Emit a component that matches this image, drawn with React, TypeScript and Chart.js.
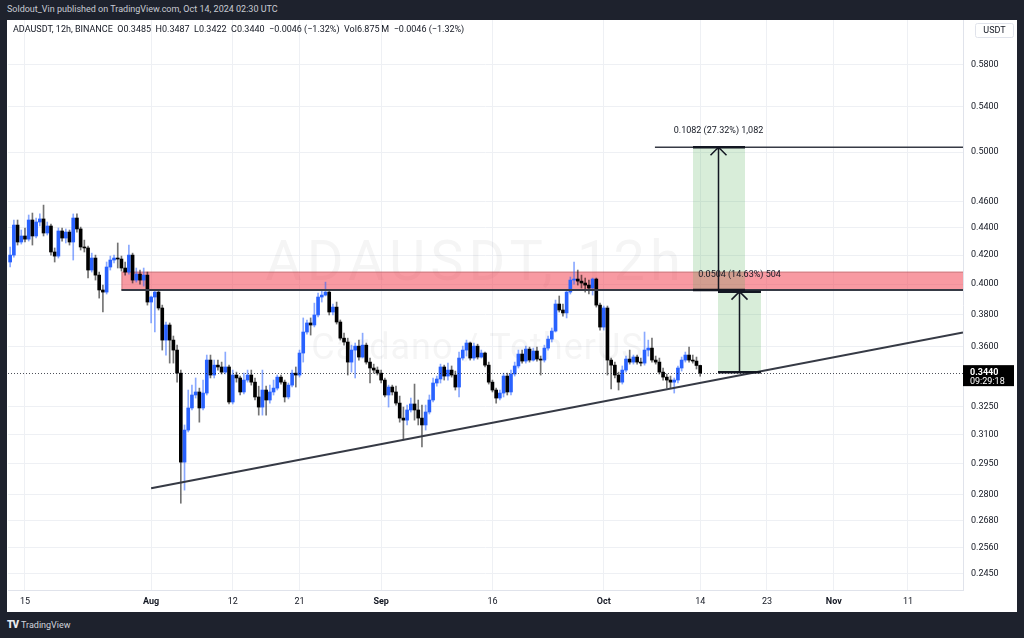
import React, { useEffect, useRef } from "react";
import { Chart, registerables } from "chart.js";

Chart.register(...registerables);

if (typeof document !== "undefined") {
  document.body.style.margin = "0";
}

// ---- data (ADAUSDT, 12h candles, Binance) ----
// x unit: days since 2024-07-15 00:00 UTC; first candle opens 2024-07-13 00:00, one candle per 12h
const firstCandleDay = -2;
const candleStepDays = 0.5;
const firstOpen = 0.4152;

const closes = [
  0.4201, 0.4420, 0.4295, 0.4339, 0.4316, 0.4458, 0.4339, 0.4443, 0.4466, 0.4361,
  0.4413, 0.4223, 0.4194, 0.4376, 0.4324, 0.4368, 0.4295, 0.4473, 0.4391, 0.4259,
  0.4252, 0.4096, 0.4180, 0.4061, 0.3960, 0.3946, 0.4117, 0.4166, 0.4180, 0.4173,
  0.4110, 0.4082, 0.4201, 0.4027, 0.4068, 0.4027, 0.4061, 0.3880, 0.3913, 0.3946,
  0.3841, 0.3638, 0.3732, 0.3638, 0.3577, 0.3440, 0.2959, 0.3124, 0.3243, 0.3315,
  0.3332, 0.3243, 0.3326, 0.3517, 0.3429, 0.3487, 0.3476, 0.3446, 0.3476, 0.3276,
  0.3429, 0.3412, 0.3332, 0.3400, 0.3429, 0.3388, 0.3304, 0.3248, 0.3343, 0.3287,
  0.3332, 0.3354, 0.3417, 0.3388, 0.3304, 0.3371, 0.3440, 0.3429, 0.3559, 0.3688,
  0.3745, 0.3732, 0.3796, 0.3913, 0.3926, 0.3946, 0.3815, 0.3847, 0.3751, 0.3650,
  0.3626, 0.3505, 0.3577, 0.3601, 0.3535, 0.3607, 0.3505, 0.3470, 0.3458, 0.3440,
  0.3400, 0.3315, 0.3360, 0.3332, 0.3270, 0.3188, 0.3177, 0.3232, 0.3265, 0.3232,
  0.3188, 0.3151, 0.3221, 0.3287, 0.3383, 0.3406, 0.3476, 0.3423, 0.3458, 0.3429,
  0.3360, 0.3529, 0.3577, 0.3620, 0.3529, 0.3601, 0.3535, 0.3559, 0.3487, 0.3388,
  0.3343, 0.3298, 0.3326, 0.3423, 0.3332, 0.3435, 0.3482, 0.3553, 0.3511, 0.3583,
  0.3517, 0.3571, 0.3523, 0.3517, 0.3589, 0.3644, 0.3694, 0.3867, 0.3828, 0.3809,
  0.3946, 0.4027, 0.4034, 0.4020, 0.4007, 0.3993, 0.3973, 0.4034, 0.3860, 0.3719,
  0.3841, 0.3517, 0.3487, 0.3429, 0.3388, 0.3458, 0.3523, 0.3505, 0.3535, 0.3505,
  0.3499, 0.3577, 0.3589, 0.3517, 0.3505, 0.3446, 0.3417, 0.3400, 0.3388, 0.3400,
  0.3470, 0.3517, 0.3547, 0.3517, 0.3511, 0.3485, 0.3440,
];

const highs = [
  0.4259, 0.4458, 0.4458, 0.4383, 0.4398, 0.4496, 0.4511, 0.4473, 0.4504, 0.4572,
  0.4443, 0.4428, 0.4252, 0.4398, 0.4398, 0.4391, 0.4383, 0.4504, 0.4504, 0.4405,
  0.4309, 0.4266, 0.4215, 0.4201, 0.4082, 0.3993, 0.4152, 0.4194, 0.4201, 0.4288,
  0.4194, 0.4152, 0.4273, 0.4215, 0.4110, 0.4096, 0.4110, 0.4082, 0.3920, 0.3960,
  0.3960, 0.3860, 0.3751, 0.3745, 0.3663, 0.3607, 0.3458, 0.3151, 0.3343, 0.3371,
  0.3412, 0.3354, 0.3400, 0.3547, 0.3547, 0.3517, 0.3517, 0.3505, 0.3565, 0.3487,
  0.3458, 0.3446, 0.3423, 0.3440, 0.3458, 0.3458, 0.3412, 0.3365, 0.3458, 0.3365,
  0.3371, 0.3400, 0.3429, 0.3429, 0.3400, 0.3383, 0.3458, 0.3476, 0.3577, 0.3777,
  0.3764, 0.3777, 0.3873, 0.3940, 0.3960, 0.4013, 0.3960, 0.3867, 0.3880, 0.3764,
  0.3681, 0.3650, 0.3607, 0.3620, 0.3638, 0.3681, 0.3620, 0.3529, 0.3493, 0.3476,
  0.3458, 0.3412, 0.3371, 0.3371, 0.3365, 0.3309, 0.3248, 0.3259, 0.3298, 0.3377,
  0.3287, 0.3259, 0.3259, 0.3315, 0.3412, 0.3423, 0.3493, 0.3487, 0.3499, 0.3482,
  0.3452, 0.3565, 0.3601, 0.3638, 0.3626, 0.3620, 0.3613, 0.3577, 0.3565, 0.3505,
  0.3400, 0.3354, 0.3343, 0.3440, 0.3440, 0.3458, 0.3505, 0.3577, 0.3577, 0.3601,
  0.3595, 0.3589, 0.3595, 0.3541, 0.3607, 0.3663, 0.3713, 0.3893, 0.3920, 0.3867,
  0.3960, 0.4048, 0.4152, 0.4096, 0.4061, 0.4041, 0.4027, 0.4041, 0.4041, 0.3873,
  0.3854, 0.3854, 0.3529, 0.3505, 0.3446, 0.3482, 0.3541, 0.3577, 0.3547, 0.3547,
  0.3529, 0.3688, 0.3638, 0.3650, 0.3541, 0.3529, 0.3470, 0.3435, 0.3423, 0.3412,
  0.3482, 0.3535, 0.3565, 0.3595, 0.3547, 0.3535, 0.3487,
];

const lows = [
  0.4117, 0.4187, 0.4273, 0.4280, 0.4295, 0.4302, 0.4273, 0.4324, 0.4413, 0.4339,
  0.4346, 0.4201, 0.4152, 0.4180, 0.4302, 0.4288, 0.4273, 0.4166, 0.4368, 0.4237,
  0.4223, 0.4041, 0.4082, 0.4027, 0.3906, 0.3815, 0.3933, 0.4096, 0.4145, 0.4110,
  0.4089, 0.4061, 0.4068, 0.4007, 0.4013, 0.4000, 0.3986, 0.3860, 0.3745, 0.3688,
  0.3828, 0.3577, 0.3547, 0.3499, 0.3499, 0.3388, 0.2760, 0.2822, 0.3114, 0.3232,
  0.3298, 0.3166, 0.3232, 0.3315, 0.3412, 0.3412, 0.3458, 0.3435, 0.3435, 0.3265,
  0.3265, 0.3388, 0.3315, 0.3321, 0.3388, 0.3371, 0.3287, 0.3204, 0.3204, 0.3204,
  0.3270, 0.3315, 0.3343, 0.3377, 0.3276, 0.3293, 0.3360, 0.3360, 0.3417, 0.3505,
  0.3675, 0.3669, 0.3720, 0.3783, 0.3880, 0.3920, 0.3796, 0.3796, 0.3738, 0.3638,
  0.3607, 0.3429, 0.3446, 0.3412, 0.3517, 0.3529, 0.3493, 0.3383, 0.3440, 0.3429,
  0.3383, 0.3304, 0.3248, 0.3315, 0.3259, 0.3166, 0.3072, 0.3151, 0.3221, 0.3177,
  0.3151, 0.3036, 0.3124, 0.3210, 0.3276, 0.3365, 0.3383, 0.3400, 0.3400, 0.3417,
  0.3343, 0.3304, 0.3517, 0.3541, 0.3517, 0.3517, 0.3523, 0.3529, 0.3476, 0.3377,
  0.3332, 0.3270, 0.3287, 0.3304, 0.3315, 0.3315, 0.3423, 0.3470, 0.3499, 0.3499,
  0.3505, 0.3511, 0.3511, 0.3429, 0.3505, 0.3577, 0.3626, 0.3688, 0.3815, 0.3789,
  0.3777, 0.3933, 0.4000, 0.3993, 0.3973, 0.3946, 0.3933, 0.3926, 0.3847, 0.3700,
  0.3700, 0.3429, 0.3349, 0.3412, 0.3343, 0.3377, 0.3446, 0.3493, 0.3493, 0.3493,
  0.3482, 0.3487, 0.3541, 0.3505, 0.3493, 0.3435, 0.3400, 0.3354, 0.3354, 0.3326,
  0.3383, 0.3452, 0.3505, 0.3505, 0.3499, 0.3464, 0.3422,
];

// axis ticks
const timeTickDays = [0, 17, 28, 37, 48, 63, 78, 91, 100, 109, 119];
const timeTickLabels = ["15", "Aug", "12", "21", "Sep", "16", "Oct", "14", "23", "Nov", "11"];
const monthLabels = ["Aug", "Sep", "Oct", "Nov"];
const priceTicks = [0.58, 0.54, 0.5, 0.46, 0.44, 0.42, 0.4, 0.38, 0.36, 0.325, 0.31, 0.295, 0.28, 0.268, 0.256, 0.245];

// visible ranges
const dayMin = -2.29;
const dayMax = 126.42;
const priceMin = 0.2383;
const priceMax = 0.6254;

// drawings (day, price)
const zoneStartDay = 13;
const zoneTop = 0.4085;
const zoneBottom = 0.396;
const trendStart = [17, 0.2831];
const trendEnd = [126.42, 0.3685];
const targetLineStartDay = 84.9;
const measure1 = { from: 0.396, to: 0.5042, startDay: 90.03, endDay: 97.04, arrowDay: 93.4, label: "0.1082 (27.32%) 1,082" };
const measure2 = { from: 0.3445, to: 0.3949, startDay: 93.4, endDay: 99.19, arrowDay: 96.23, label: "0.0504 (14.63%) 504" };
const lastPrice = 0.344;
const countdown = "09:29:18";
const legendText = "ADAUSDT, 12h, BINANCE  O0.3485  H0.3487  L0.3422  C0.3440  \u22120.0046 (\u22121.32%)  Vol6.875\u2009M  \u22120.0046 (\u22121.32%)";
const watermark1 = "ADAUSDT, 12h";
const watermark2 = "Cardano / TetherUS";

const FONT = "Roboto, 'Liberation Sans', sans-serif";
const UP = "#2962ff";
const DOWN = "#000000";
const UP_WICK = "rgba(41,98,255,0.55)";
const DOWN_WICK = "rgba(0,0,0,0.55)";
const INK = "#131722";

const candleDays = closes.map((_, i) => firstCandleDay + i * candleStepDays);
// each 12h candle opens at the previous candle's close
const opens = closes.map((_, i) => (i === 0 ? firstOpen : closes[i - 1]));

const drawingsPlugin = {
  id: "drawings",
  beforeDatasetsDraw(chart: any) {
    const { ctx, chartArea: a, scales } = chart;
    const x = scales.x;
    const y = scales.y;
    ctx.save();
    ctx.beginPath();
    ctx.rect(a.left, a.top, a.right - a.left, a.bottom - a.top);
    ctx.clip();

    // watermark
    const cx = (a.left + a.right) / 2;
    ctx.fillStyle = "rgba(19,23,34,0.045)";
    ctx.textAlign = "center";
    ctx.textBaseline = "middle";
    ctx.font = `56px ${FONT}`;
    (ctx as any).letterSpacing = "5px";
    ctx.fillText(watermark1, cx - 10, 246);
    ctx.font = `36px ${FONT}`;
    (ctx as any).letterSpacing = "1px";
    ctx.fillText(watermark2, cx - 8, 330);
    (ctx as any).letterSpacing = "0px";

    // resistance zone
    const zx = x.getPixelForValue(zoneStartDay);
    const zt = y.getPixelForValue(zoneTop);
    const zb = y.getPixelForValue(zoneBottom);
    ctx.fillStyle = "rgba(242,54,69,0.5)";
    ctx.fillRect(zx, zt, a.right - zx, zb - zt);
    ctx.strokeStyle = "rgba(120,60,60,0.35)";
    ctx.lineWidth = 1;
    ctx.strokeRect(zx + 0.5, zt + 0.5, a.right - zx, zb - zt);

    // measure boxes
    for (const m of [measure1, measure2]) {
      const x0 = x.getPixelForValue(m.startDay);
      const x1 = x.getPixelForValue(m.endDay);
      const y0 = y.getPixelForValue(m.to);
      const y1 = y.getPixelForValue(m.from);
      ctx.fillStyle = "rgba(76,175,80,0.22)";
      ctx.fillRect(x0, y0, x1 - x0, y1 - y0);
    }
    ctx.restore();
  },
  afterDatasetsDraw(chart: any) {
    const { ctx, chartArea: a, scales } = chart;
    const x = scales.x;
    const y = scales.y;
    ctx.save();
    ctx.beginPath();
    ctx.rect(a.left, a.top, a.right - a.left, a.bottom - a.top);
    ctx.clip();

    // current price dotted line
    const lp = Math.round(y.getPixelForValue(lastPrice)) + 0.5;
    ctx.strokeStyle = "rgba(19,23,34,0.75)";
    ctx.lineWidth = 1;
    ctx.setLineDash([1, 2]);
    ctx.beginPath();
    ctx.moveTo(a.left, lp);
    ctx.lineTo(a.right, lp);
    ctx.stroke();
    ctx.setLineDash([]);

    // zone bottom line
    const zx = x.getPixelForValue(zoneStartDay);
    const zb = y.getPixelForValue(zoneBottom);
    ctx.strokeStyle = "#363a45";
    ctx.lineWidth = 2;
    ctx.beginPath();
    ctx.moveTo(zx, zb);
    ctx.lineTo(a.right, zb);
    ctx.stroke();

    // trend line
    ctx.lineWidth = 2;
    ctx.beginPath();
    ctx.moveTo(x.getPixelForValue(trendStart[0]), y.getPixelForValue(trendStart[1]));
    ctx.lineTo(x.getPixelForValue(trendEnd[0]), y.getPixelForValue(trendEnd[1]));
    ctx.stroke();

    // target line
    const ty = y.getPixelForValue(measure1.to);
    ctx.lineWidth = 1.5;
    ctx.beginPath();
    ctx.moveTo(x.getPixelForValue(targetLineStartDay), ty);
    ctx.lineTo(a.right, ty);
    ctx.stroke();

    // measures
    ctx.strokeStyle = INK;
    for (const m of [measure1, measure2]) {
      const x0 = x.getPixelForValue(m.startDay);
      const x1 = x.getPixelForValue(m.endDay);
      const ax = Math.round(x.getPixelForValue(m.arrowDay)) + 0.5;
      const yTop = y.getPixelForValue(m.to);
      const yBot = y.getPixelForValue(m.from);
      ctx.lineWidth = 2.5;
      ctx.beginPath();
      ctx.moveTo(x0, yTop);
      ctx.lineTo(x1, yTop);
      ctx.moveTo(x0, yBot);
      ctx.lineTo(x1, yBot);
      ctx.stroke();
      ctx.lineWidth = 1.5;
      ctx.beginPath();
      ctx.moveTo(ax, yBot);
      ctx.lineTo(ax, yTop);
      ctx.moveTo(ax - 8, yTop + 8);
      ctx.lineTo(ax, yTop);
      ctx.lineTo(ax + 8, yTop + 8);
      ctx.stroke();
      ctx.fillStyle = INK;
      ctx.font = `9px ${FONT}`;
      ctx.textAlign = "center";
      ctx.textBaseline = "middle";
      ctx.fillText(m.label, ax, yTop - 17);
    }
    ctx.restore();
  },
  afterDraw(chart: any) {
    const { ctx, chartArea: a, scales } = chart;
    const y = scales.y;
    ctx.save();
    // legend line
    ctx.fillStyle = INK;
    ctx.font = `9px ${FONT}`;
    ctx.textAlign = "left";
    ctx.textBaseline = "middle";
    ctx.fillText(legendText, 6, 10);

    // USDT box
    ctx.strokeStyle = "#e0e3eb";
    ctx.lineWidth = 1;
    ctx.beginPath();
    (ctx as any).roundRect(968.5, 3.5, 38, 14, 2);
    ctx.stroke();
    ctx.textAlign = "center";
    ctx.fillText("USDT", 987.5, 11);

    // last price label
    const lp = y.getPixelForValue(lastPrice);
    ctx.fillStyle = "#000000";
    ctx.fillRect(a.right, lp - 8, 51, 21);
    ctx.fillStyle = "#ffffff";
    ctx.textAlign = "left";
    ctx.font = `bold 9px ${FONT}`;
    ctx.fillText(lastPrice.toFixed(4), a.right + 7, lp);
    ctx.font = `9px ${FONT}`;
    ctx.fillText(countdown, a.right + 7, lp + 8.5);
    ctx.restore();
  },
};

export default function App() {
  const ref = useRef<HTMLCanvasElement>(null);

  useEffect(() => {
    const canvas = ref.current;
    if (!canvas) return;
    const wickColors = closes.map((c, i) => (c >= opens[i] ? UP_WICK : DOWN_WICK));
    const bodyColors = closes.map((c, i) => (c >= opens[i] ? UP : DOWN));
    const chart = new Chart(canvas, {
      type: "bar",
      data: {
        datasets: [
          {
            label: "wicks",
            data: candleDays.map((d, i) => ({ x: d, y: [lows[i], highs[i]] })) as any,
            backgroundColor: wickColors,
            barThickness: 1,
            grouped: false,
            order: 2,
          } as any,
          {
            label: "bodies",
            data: candleDays.map((d, i) => ({ x: d, y: [opens[i], closes[i]] })) as any,
            backgroundColor: bodyColors,
            barThickness: 3,
            minBarLength: 1,
            grouped: false,
            order: 1,
          } as any,
        ],
      },
      options: {
        animation: false,
        responsive: false,
        devicePixelRatio: 1,
        layout: { padding: { left: 1, top: 0, right: 0, bottom: 0 } },
        plugins: { legend: { display: false }, tooltip: { enabled: false } },
        scales: {
          x: {
            type: "linear",
            min: dayMin,
            max: dayMax,
            offset: false,
            grid: { color: "#eef0f4", drawTicks: false, offset: false },
            border: { display: true, color: "#e0e3eb" },
            ticks: {
              autoSkip: false,
              maxRotation: 0,
              padding: 6,
              color: INK,
              font: (c: any) => {
                const idx = timeTickDays.indexOf(c.tick ? c.tick.value : NaN);
                const bold = idx >= 0 && monthLabels.includes(timeTickLabels[idx]);
                return { size: 9, family: FONT, weight: bold ? "bold" : "normal" };
              },
              callback: (v: any) => {
                const idx = timeTickDays.indexOf(Number(v));
                return idx >= 0 ? timeTickLabels[idx] : "";
              },
            },
            afterBuildTicks: (s: any) => {
              s.ticks = timeTickDays.map((v) => ({ value: v }));
            },
            afterFit: (s: any) => {
              s.height = 22;
            },
          } as any,
          y: {
            type: "logarithmic",
            position: "right",
            min: priceMin,
            max: priceMax,
            grid: { color: "#eef0f4", drawTicks: true, tickLength: 8, tickColor: "rgba(0,0,0,0)" },
            border: { display: true, color: "#e0e3eb" },
            ticks: {
              padding: 0,
              color: INK,
              font: { size: 9, family: FONT, lineHeight: 0.01 },
              callback: (v: any) => Number(v).toFixed(4),
            },
            afterBuildTicks: (s: any) => {
              s.ticks = priceTicks.map((v) => ({ value: v }));
            },
            afterFit: (s: any) => {
              s.width = 54;
            },
          } as any,
        },
      },
      plugins: [drawingsPlugin],
    });
    return () => chart.destroy();
  }, []);

  return (
    <div
      style={{
        position: "relative",
        width: 1024,
        height: 638,
        background: "#1e222d",
        overflow: "hidden",
        fontFamily: FONT,
      }}
    >
      <div style={{ position: "absolute", left: 7, top: 4, fontSize: 9, color: "#c9ccd4", whiteSpace: "nowrap" }}>
        Soldout_Vin published on TradingView.com, Oct 14, 2024 02:30 UTC
      </div>
      <div style={{ position: "absolute", left: 7, top: 20, width: 1010, height: 592, background: "#ffffff" }}>
        <canvas ref={ref} width={1010} height={592} style={{ display: "block" }} />
      </div>
      <div
        style={{
          position: "absolute",
          left: 7,
          top: 619,
          fontSize: 9,
          color: "#d1d4dc",
          whiteSpace: "nowrap",
          display: "flex",
          alignItems: "center",
          gap: 3,
        }}
      >
        <span style={{ fontWeight: 900, fontSize: 10, color: "#e8eaf0", letterSpacing: -1 }}>TV</span>
        <span>TradingView</span>
      </div>
    </div>
  );
}
